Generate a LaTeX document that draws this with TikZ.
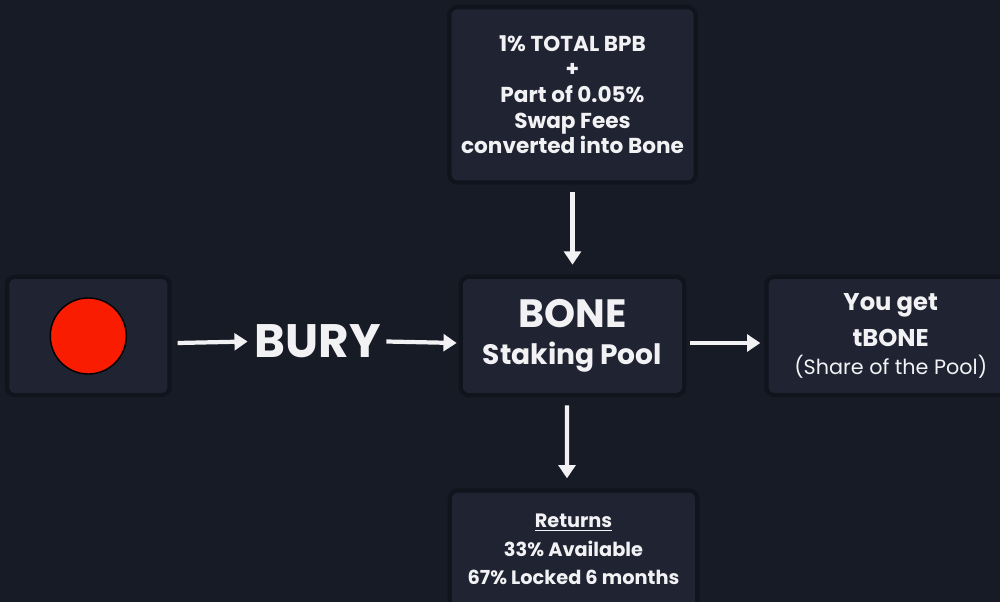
\documentclass[tikz,border=0pt]{standalone}
\usepackage{fontspec}
\setmainfont{Poppins}
\usetikzlibrary{arrows.meta, positioning}
\definecolor{bbg}{RGB}{23,27,37}
\definecolor{bbox}{RGB}{31,35,50}
\definecolor{bshadow}{RGB}{17,20,28}
\definecolor{bred}{RGB}{250,28,0}
\definecolor{bwhite}{RGB}{242,242,244}

\begin{document}
\begin{tikzpicture}[
  card/.style={fill=bbox,rounded corners=3.5pt,align=center,text=bwhite,inner sep=2pt,
               preaction={draw=bshadow,line width=5pt,rounded corners=3.5pt}},
  arr/.style={-{Triangle[length=7.5pt,width=9.5pt]},line width=2.4pt,color=bwhite},
  coin/.style={circle,fill=bred,draw=black,line width=0.8pt,minimum size=1.52cm}
]
  \fill[bbg] (0,0) rectangle (20,-12.04);
  \useasboundingbox (0,0) rectangle (20,-12.04);

  \node[card,minimum width=4.38cm,minimum height=2.28cm] (bone) at (11.45,-6.72)
    {{\fontsize{22.5}{26}\selectfont\bfseries BONE}\\[7pt]
     {\fontsize{16}{18}\selectfont\bfseries Staking Pool}};
  \node[card,minimum width=3.16cm,minimum height=2.28cm,left=5.9cm of bone] (src) {};
  \node[coin] (dot) at (src.center) {};
  \node[text=bwhite,inner sep=0pt,font=\fontsize{26.7}{30}\selectfont\bfseries] (bury) at (6.36,-6.83) {BURY};
  \node[card,minimum width=4.84cm,minimum height=3.42cm,above=1.96cm of bone,
        font=\fontsize{12.3}{14.6}\selectfont\bfseries] (fees)
    {1\% TOTAL BPB\\+\\Part of 0.05\%\\Swap Fees\\converted into Bone};
  \node[card,minimum width=4.88cm,minimum height=2.28cm,right=1.72cm of bone,
        font=\fontsize{13.8}{20.4}\selectfont\bfseries] (get)
    {You get\\tBONE\\[-4pt]
     \fontsize{11.8}{16}\selectfont\mdseries (Share of the Pool)};
  \node[card,minimum width=4.86cm,minimum height=2.28cm,below=1.98cm of bone,xshift=0.02cm,
        font=\fontsize{11}{16.2}\selectfont\bfseries] (ret)
    {\underline{Returns}\\33\% Available\\67\% Locked 6 months};

  \draw[arr] ([xshift=0.2cm,yshift=-0.14cm]src.east) -- ([xshift=-0.14cm]bury.west);
  \draw[arr] ([xshift=0.1cm]bury.east) -- ([xshift=-0.12cm,yshift=-0.14cm]bone.west);
  \draw[arr] ([xshift=0.16cm,yshift=-0.14cm]bone.east) -- ([xshift=-0.16cm,yshift=-0.14cm]get.west);
  \draw[arr] ([yshift=-0.22cm]fees.south) -- ([yshift=0.28cm]bone.north);
  \draw[arr] ([xshift=-0.11cm,yshift=-0.24cm]bone.south) -- ([xshift=-0.13cm,yshift=0.28cm]ret.north);
\end{tikzpicture}
\end{document}
